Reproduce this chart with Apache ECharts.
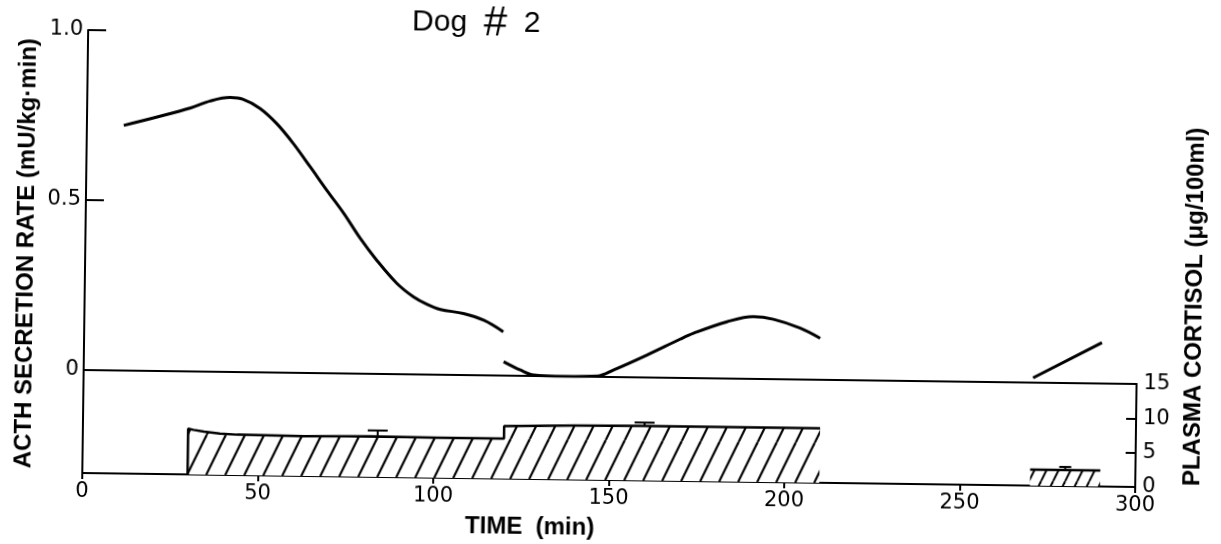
<!DOCTYPE html>
<html><head><meta charset="utf-8">
<script src="https://cdn.jsdelivr.net/npm/echarts@6/dist/echarts.min.js"></script>
<style>
html,body{margin:0;padding:0;background:#fff;width:1221px;height:544px;overflow:hidden;}
#chart{width:1221px;height:544px;transform:rotate(0.76deg);transform-origin:50% 50%;background:#fff;}
</style></head><body><div id="chart"></div>
<script>
// ---- data (time in min) ----
const chartTitle = 'Dog # 2';
const xTickValues = [0, 50, 100, 150, 200, 250, 300];
const acthTicks = [0, 0.5, 1.0];
const cortisolTicks = [0, 5, 10, 15];
// ACTH secretion rate (mU/kg·min), three drawn segments
const acthSeg1 = [[10.5,0.721],[20,0.747],[29.5,0.775],[35,0.796],[40.7,0.807],[44.5,0.802],[49.3,0.776],[54.1,0.732],[58.9,0.674],[63.8,0.606],[68.6,0.538],[73.5,0.471],[78.3,0.398],[83.1,0.334],[88.9,0.267],[93.7,0.228],[97.5,0.207],[101.4,0.192],[108,0.181],[113.8,0.162],[119.4,0.129]];
const acthSeg2 = [[119.6,0.041],[124.4,0.017],[128.2,0.003],[137,0.0],[146.3,0.002],[151,0.021],[160.4,0.066],[169.8,0.114],[173.6,0.132],[183.1,0.167],[190.6,0.183],[196.3,0.176],[204,0.151],[209.7,0.122]];
const acthSeg3 = [[270.5,0.014],[290,0.12]];
// Plasma cortisol (µg/100ml)
const cortisolMain = [[30,0],[30,6.65],[31.5,6.5],[34.5,6.27],[39,6.02],[44,5.88],[63,5.8],[82,5.9],[101,5.84],[120,5.82],[120,7.66],[140,7.85],[159,7.93],[210,7.93]];
const cortisolLate = [[270,2.33],[290,2.33]];
const errTime = [84, 160, 280];
const errMean = [5.9, 7.93, 2.33];
const errUpper = [6.76, 8.43, 2.78];

// ---- styles ----
const FONT = '"Liberation Sans", Arial, Helvetica, sans-serif';
const TICKFONT = '"DejaVu Sans", "Liberation Sans", sans-serif';
function makeHatch(w, h, lw) {
  const c = document.createElement('canvas');
  c.width = w; c.height = h;
  const g = c.getContext('2d');
  g.fillStyle = '#fff'; g.fillRect(0, 0, w, h);
  g.strokeStyle = '#000'; g.lineWidth = lw;
  for (const k of [-1, 0, 1]) {
    g.beginPath(); g.moveTo(k * w, h); g.lineTo(k * w + w, 0); g.stroke();
  }
  return { image: c, repeat: 'repeat' };
}
const hatchWide = makeHatch(19, 40, 2.2);
const hatchNarrow = makeHatch(12, 25, 2);

const axisLine = { show: true, onZero: false, lineStyle: { color: '#000', width: 2 } };
const labelStyle = { color: '#000', fontSize: 21, fontFamily: TICKFONT };

const chart = echarts.init(document.getElementById('chart'));
chart.setOption({
  animation: false,
  backgroundColor: '#fff',
  grid: [
    { left: 85, right: 83, top: 37, height: 340 },
    { left: 85, right: 83, top: 377, height: 103 }
  ],
  xAxis: [
    { gridIndex: 0, type: 'value', min: 0, max: 300, axisLine: axisLine,
      axisTick: { show: false }, axisLabel: { show: false }, splitLine: { show: false } },
    { gridIndex: 1, type: 'value', min: 0, max: 300, interval: 50, axisLine: axisLine,
      axisTick: { show: true, inside: false, length: 6, lineStyle: { color: '#000', width: 2 } },
      axisLabel: Object.assign({ margin: 8, customValues: xTickValues }, labelStyle),
      splitLine: { show: false } }
  ],
  yAxis: [
    { gridIndex: 0, type: 'value', min: 0, max: 1, interval: 0.5, axisLine: axisLine,
      axisTick: { show: true, inside: true, length: 18, lineStyle: { color: '#000', width: 2 } },
      axisLabel: Object.assign({ margin: 5, formatter: v => (v === 0 ? '0' : v.toFixed(1)), customValues: acthTicks }, labelStyle),
      splitLine: { show: false } },
    { gridIndex: 1, type: 'value', min: 0, max: 15, position: 'left', axisLine: axisLine,
      axisTick: { show: false }, axisLabel: { show: false }, splitLine: { show: false } },
    { gridIndex: 1, type: 'value', min: 0, max: 15, interval: 5, position: 'right', axisLine: axisLine,
      axisTick: { show: true, inside: true, length: 10, lineStyle: { color: '#000', width: 2 } },
      axisLabel: Object.assign({ margin: 7, customValues: cortisolTicks }, labelStyle),
      splitLine: { show: false } }
  ],
  graphic: [
    { type: 'text', x: 473, y: 25, silent: true,
      style: { text: 'Dog  {h|#}  2', rich: { h: { fontSize: 42, fontFamily: FONT, fill: '#000' } },
               fontSize: 30, fontFamily: FONT, fill: '#000',
               align: 'center', verticalAlign: 'middle', textAlign: 'center', textVerticalAlign: 'middle' } },
    { type: 'text', x: 26, y: 261, rotation: Math.PI / 2, silent: true,
      style: { text: 'ACTH SECRETION RATE (mU/kg·min)', fontSize: 24, fontWeight: 'bold', fontFamily: FONT, fill: '#000',
               align: 'center', verticalAlign: 'middle', textAlign: 'center', textVerticalAlign: 'middle' } },
    { type: 'text', x: 1195, y: 299, rotation: Math.PI / 2, silent: true,
      style: { text: 'PLASMA CORTISOL (μg/100ml)', fontSize: 24, fontWeight: 'bold', fontFamily: FONT, fill: '#000',
               align: 'center', verticalAlign: 'middle', textAlign: 'center', textVerticalAlign: 'middle' } },
    { type: 'text', x: 533, y: 528, silent: true,
      style: { text: 'TIME  (min)', fontSize: 24, fontWeight: 'bold', fontFamily: FONT, fill: '#000',
               align: 'center', verticalAlign: 'middle', textAlign: 'center', textVerticalAlign: 'middle' } }
  ],
  series: [
    { type: 'line', xAxisIndex: 0, yAxisIndex: 0, data: acthSeg1, smooth: 0.35, symbol: 'none',
      lineStyle: { color: '#000', width: 3 } },
    { type: 'line', xAxisIndex: 0, yAxisIndex: 0, data: acthSeg2, smooth: 0.35, symbol: 'none',
      lineStyle: { color: '#000', width: 3 } },
    { type: 'line', xAxisIndex: 0, yAxisIndex: 0, data: acthSeg3, symbol: 'none',
      lineStyle: { color: '#000', width: 3 } },
    { type: 'line', xAxisIndex: 1, yAxisIndex: 2, data: cortisolMain, symbol: 'none',
      lineStyle: { color: '#000', width: 2.5 }, areaStyle: { color: hatchWide, opacity: 1 } },
    { type: 'line', xAxisIndex: 1, yAxisIndex: 2, data: cortisolLate, symbol: 'none',
      lineStyle: { color: '#000', width: 2.5 }, areaStyle: { color: hatchNarrow, opacity: 1 } },
    { type: 'custom', xAxisIndex: 1, yAxisIndex: 2,
      data: errTime.map((t, i) => [t, errMean[i], errUpper[i]]),
      renderItem: function (params, api) {
        const p0 = api.coord([api.value(0), api.value(1)]);
        const p1 = api.coord([api.value(0), api.value(2)]);
        const half = params.dataIndex === 2 ? 6 : 10;
        return { type: 'group', children: [
          { type: 'line', shape: { x1: p0[0], y1: p0[1], x2: p1[0], y2: p1[1] }, style: { stroke: '#000', lineWidth: 2 } },
          { type: 'line', shape: { x1: p1[0] - half, y1: p1[1], x2: p1[0] + half, y2: p1[1] }, style: { stroke: '#000', lineWidth: 2 } }
        ] };
      } }
  ]
});
</script></body></html>
